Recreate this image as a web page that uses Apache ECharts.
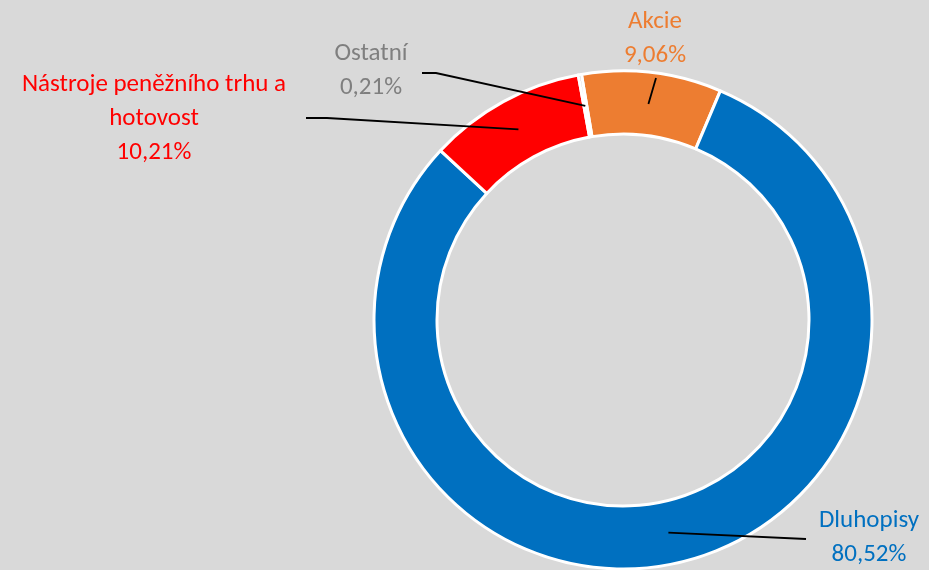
<!DOCTYPE html>
<html><head><meta charset="utf-8">
<script src="https://cdn.jsdelivr.net/npm/echarts@6/dist/echarts.min.js"></script>
<style>html,body{margin:0;padding:0;background:#d9d9d9}#c{width:929px;height:570px}</style>
</head><body><div id="c"></div>
<script>
// --- data ---
const categories = ['Akcie', 'Dluhopisy', 'Nástroje peněžního trhu a\nhotovost', 'Ostatní'];
const values = [9.06, 80.52, 10.21, 0.21];
// --- styles / layout ---
const sliceColors = ['#ED7D31', '#0070C0', '#FF0000', '#A5A5A5'];
const labelColors = ['#ED7D31', '#0070C0', '#FF0000', '#7F7F7F'];
const labelAnchors = [[655, 39], [869, 538], [154, 119], [371, 71]];
const leaderEnds = [[[656, 78]], [[806, 539]], [[327, 118], [306, 118]], [[436, 73], [422, 73]]];

const CX = 623, CY = 320, R_IN = 186, R_OUT = 249, START = 99.6;
const total = values.reduce((a, b) => a + b, 0);
function midPoint(i) {
  let cum = 0;
  for (let k = 0; k < i; k++) cum += values[k];
  const fromTop = (90 - START) + (cum + values[i] / 2) / total * 360;
  const rad = fromTop * Math.PI / 180;
  const r = (R_IN + R_OUT) / 2;
  return [CX + r * Math.sin(rad), CY - r * Math.cos(rad)];
}

const leaderGraphics = values.map((v, i) => ({
  type: 'polyline',
  z: 100,
  silent: true,
  shape: {points: [midPoint(i)].concat(leaderEnds[i])},
  style: {stroke: '#000000', lineWidth: 1.8, fill: null}
}));

const chart = echarts.init(document.getElementById('c'), null, {renderer: 'canvas'});
chart.setOption({
  backgroundColor: '#d9d9d9',
  animation: false,
  graphic: leaderGraphics,
  series: [{
    type: 'pie',
    z: 2,
    center: [CX, CY],
    radius: [R_IN, R_OUT],
    startAngle: START,
    clockwise: true,
    avoidLabelOverlap: false,
    emphasis: {disabled: true},
    itemStyle: {borderColor: '#ffffff', borderWidth: 3},
    label: {
      show: true,
      position: 'outside',
      fontFamily: 'Carlito, Lato, sans-serif',
      fontSize: 25,
      lineHeight: 34,
      align: 'center',
      formatter: p => p.name + '\n' + p.value.toFixed(2).replace('.', ',') + '%'
    },
    labelLine: {show: false},
    labelLayout: function (params) {
      const i = params.dataIndex;
      return {
        x: labelAnchors[i][0],
        y: labelAnchors[i][1],
        align: 'center',
        verticalAlign: 'middle'
      };
    },
    data: categories.map((c, i) => ({
      name: c,
      value: values[i],
      itemStyle: {color: sliceColors[i]},
      label: {color: labelColors[i]}
    }))
  }]
});
</script>
</body></html>
